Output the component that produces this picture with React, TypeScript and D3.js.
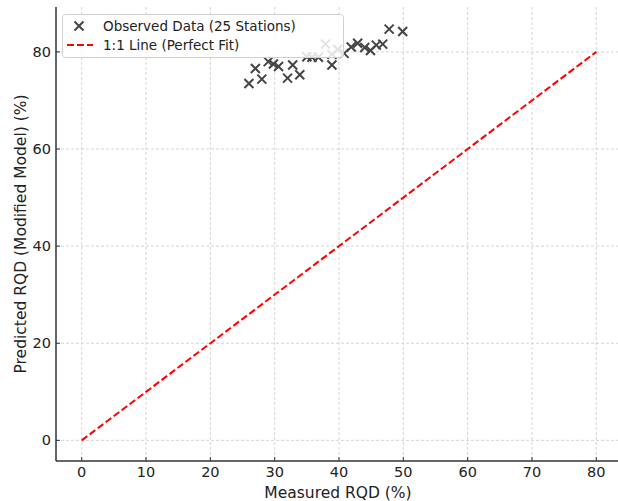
import React from "react";
import * as d3 from "d3";

const measured = [26, 27, 28, 29, 29.8, 30.6, 32, 32.8, 33.9, 35, 35.8, 36.8, 37.9, 38.9, 38.9, 39.8, 40.8, 41.9, 42.9, 44, 44.9, 45.8, 46.8, 47.8, 49.9];
const predicted = [73.5, 76.6, 74.4, 78.0, 77.5, 77.0, 74.6, 77.3, 75.3, 79.0, 78.9, 78.9, 81.6, 79.5, 77.3, 80.5, 79.7, 81.0, 81.8, 80.9, 80.3, 81.4, 81.6, 84.7, 84.2];
const xTicks = [0, 10, 20, 30, 40, 50, 60, 70, 80];
const yTicks = [0, 20, 40, 60, 80];
const fitLine = [0, 80];

const W = 618, H = 501;
const left = 56, right = 622, top = 7, bottom = 461;
const FONT = "DejaVu Sans, sans-serif";

export default function App() {
  const x = d3.scaleLinear().domain([-4, 84]).range([left, right]);
  const y = d3.scaleLinear().domain([-4.25, 89.25]).range([bottom, top]);
  const line = d3.line<number>().x((d) => x(d)).y((d) => y(d));
  const ms = 4.5;
  const mColor = "#444444";
  const cross = `M${-ms},${-ms}L${ms},${ms}M${-ms},${ms}L${ms},${-ms}`;
  return (
    <svg width={W} height={H} style={{ position: "absolute", left: 0, top: 0, background: "#fff" }} fontFamily={FONT}>
      {xTicks.map((t) => (
        <line key={"gx" + t} x1={x(t)} x2={x(t)} y1={top} y2={bottom} stroke="#cccccc" strokeWidth={0.8} strokeDasharray="3,2" />
      ))}
      {yTicks.map((t) => (
        <line key={"gy" + t} x1={left} x2={W} y1={y(t)} y2={y(t)} stroke="#cccccc" strokeWidth={0.8} strokeDasharray="3,2" />
      ))}
      <path d={line(fitLine) || ""} stroke="#ff0000" strokeWidth={2} fill="none" strokeDasharray="7,3" />
      {measured.map((m, i) => (
        <path key={i} d={cross} transform={`translate(${x(m)},${y(predicted[i])})`} stroke={mColor} strokeWidth={2} fill="none" />
      ))}
      <line x1={left} x2={left} y1={top} y2={bottom} stroke="#333" strokeWidth={1.5} />
      <line x1={left} x2={W} y1={bottom} y2={bottom} stroke="#333" strokeWidth={1.5} />
      {xTicks.map((t) => (
        <g key={"tx" + t}>
          <line x1={x(t)} x2={x(t)} y1={bottom - 4} y2={bottom} stroke="#333" strokeWidth={1} />
          <text x={x(t)} y={477} textAnchor="middle" fontSize={14.5} fill="#222">{t}</text>
        </g>
      ))}
      {yTicks.map((t) => (
        <g key={"ty" + t}>
          <line x1={left} x2={left + 4} y1={y(t)} y2={y(t)} stroke="#333" strokeWidth={1} />
          <text x={51} y={y(t) + 5} textAnchor="end" fontSize={14.5} fill="#222">{t}</text>
        </g>
      ))}
      <text x={338} y={498} textAnchor="middle" fontSize={15.5} fill="#222">Measured RQD (%)</text>
      <text transform={`translate(26,${234}) rotate(-90)`} textAnchor="middle" fontSize={15.5} fill="#222">Predicted RQD (Modified Model) (%)</text>
      <g>
        <rect x={62.5} y={14.5} width={281} height={43} rx={3} fill="#fff" fillOpacity={0.85} stroke="#d0d0d0" />
        <path d={cross} transform="translate(79,26)" stroke={mColor} strokeWidth={2} fill="none" />
        <text x={103} y={31} fontSize={13.5} fill="#222">Observed Data (25 Stations)</text>
        <line x1={67} x2={93} y1={45} y2={45} stroke="#ff0000" strokeWidth={2} strokeDasharray="7,3" />
        <text x={103} y={50} fontSize={13.5} fill="#222">1:1 Line (Perfect Fit)</text>
      </g>
    </svg>
  );
}
